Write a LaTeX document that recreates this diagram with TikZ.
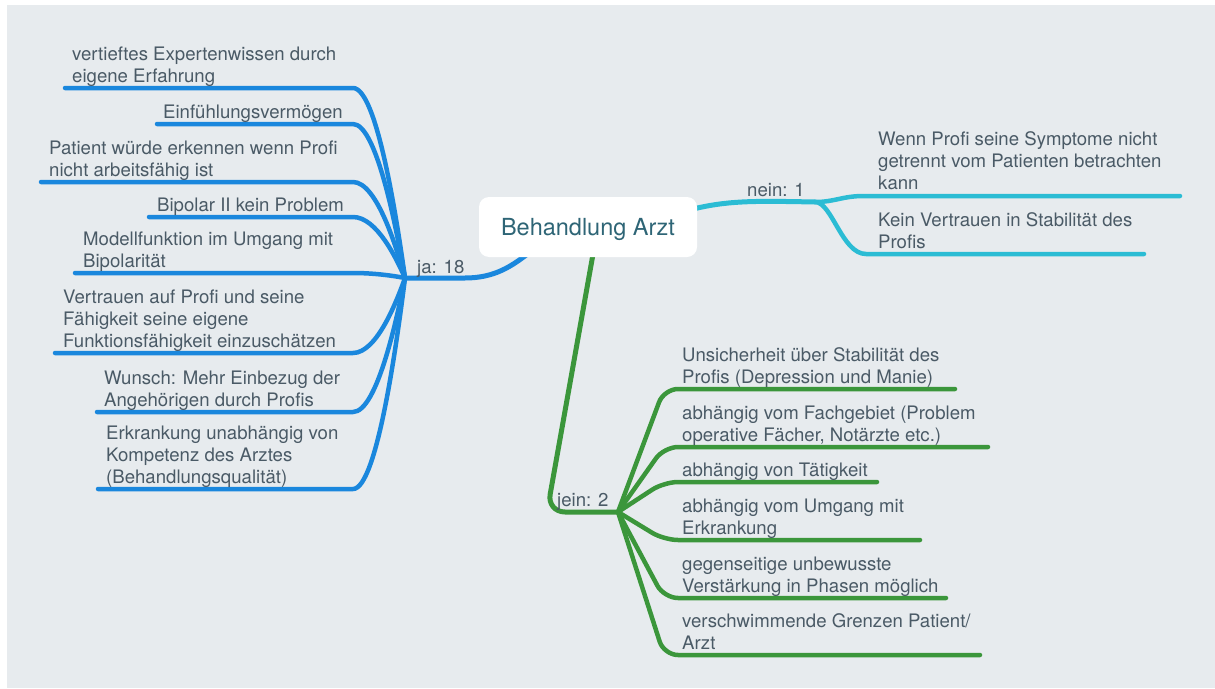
\documentclass[tikz,border=0pt]{standalone}
\usepackage{fontspec}
\setmainfont{TeX Gyre Heros}
\usetikzlibrary{calc}
\pgfdeclarelayer{bg}
\pgfdeclarelayer{lines}
\pgfsetlayers{bg,lines,main}
\definecolor{bgc}{HTML}{E7EBEE}
\definecolor{txtc}{HTML}{4A5A66}
\definecolor{rootc}{HTML}{2E6576}
\definecolor{bluec}{HTML}{1A87DD}
\definecolor{cyanc}{HTML}{2BBCD4}
\definecolor{greenc}{HTML}{3B963B}
\newcommand{\mtxt}[1]{\begin{tabular}[b]{@{}l@{}}#1\end{tabular}}
\begin{document}
\begin{tikzpicture}[x=1pt,y=-1pt,
  txt/.style={inner sep=0pt, anchor=base west, text=txtc, font=\fontsize{18.6}{22}\selectfont},
  rootbox/.style={fill=white, rounded corners=10pt, minimum width=218pt, minimum height=60pt, text depth=0pt, text=rootc, font=\fontsize{23.5}{28}\selectfont},
  bl/.style={draw=bluec, line width=4.5pt, line cap=round, line join=round},
  cy/.style={draw=cyanc, line width=4.5pt, line cap=round, line join=round},
  gr/.style={draw=greenc, line width=4.5pt, line cap=round, line join=round}]
\useasboundingbox (0,0) rectangle (1215,688);
\begin{pgfonlayer}{bg}
\fill[white] (0,0) rectangle (1215,688);
\fill[bgc] (7,5) rectangle (1215,688);
\end{pgfonlayer}

% root
\node[rootbox] (root) at (588,227) {Behandlung Arzt};

% labels
\node[txt] (ja) at (417,273) {ja: 18};
\node[txt] (nein) at (747,196) {nein: 1};
\node[txt] (jein) at (557,506) {jein: 2};

% blue leaves
\node[txt] (b1) at (72,82) {\mtxt{vertieftes Expertenwissen durch\\eigene Erfahrung}};
\node[txt] (b2) at (163,118) {Einfühlungsvermögen};
\node[txt] (b3) at (49,176) {\mtxt{Patient würde erkennen wenn Profi\\nicht arbeitsfähig ist}};
\node[txt] (b4) at (157,211) {Bipolar II kein Problem};
\node[txt] (b5) at (83,267) {\mtxt{Modellfunktion im Umgang mit\\Bipolarität}};
\node[txt] (b6) at (63,347) {\mtxt{Vertrauen auf Profi und seine\\Fähigkeit seine eigene\\Funktionsfähigkeit einzuschätzen}};
\node[txt] (b7) at (104,406) {\mtxt{Wunsch: Mehr Einbezug der\\Angehörigen durch Profis}};
\node[txt] (b8) at (106,483) {\mtxt{Erkrankung unabhängig von\\Kompetenz des Arztes\\(Behandlungsqualität)}};

% cyan leaves
\node[txt] (c1) at (878,189) {\mtxt{Wenn Profi seine Symptome nicht\\getrennt vom Patienten betrachten\\kann}};
\node[txt] (c2) at (878,248) {\mtxt{Kein Vertrauen in Stabilität des\\Profis}};

% green leaves
\node[txt] (g1) at (682,383) {\mtxt{Unsicherheit über Stabilität des\\Profis (Depression und Manie)}};
\node[txt] (g2) at (682,441) {\mtxt{abhängig vom Fachgebiet (Problem\\operative Fächer, Notärzte etc.)}};
\node[txt] (g3) at (682,476) {abhängig von Tätigkeit};
\node[txt] (g4) at (682,534) {\mtxt{abhängig vom Umgang mit\\Erkrankung}};
\node[txt] (g5) at (682,592) {\mtxt{gegenseitige unbewusste\\Verstärkung in Phasen möglich}};
\node[txt] (g6) at (682,649) {\mtxt{verschwimmende Grenzen Patient/\\Arzt}};

% hubs
\coordinate (jahub) at (405,278);
\coordinate (neinhub) at (815,202);
\coordinate (jeinhub) at (618,512);

\begin{pgfonlayer}{lines}
% main branches
\draw[bl, line width=5pt] (jahub) -- (465,278) .. controls (495,278) and (512,266) .. ($(root.south west)+(51,-5)$);
\draw[cy, line width=5pt] ($(root.east)+(-4,-18)$) .. controls (730,200) and (760,201) .. (neinhub);
\draw[gr, line width=5pt, rounded corners=18pt] ($(root.south)+(5,-3)$) -- (547,512) -- (jeinhub);

% blue leaf connectors
\foreach \n/\xl/\yy in {1/65/88, 2/157/124, 3/41/182, 4/149/217, 5/75/273, 6/55/353, 7/97/412, 8/98/489}{
  \coordinate (bL\n) at (\xl,\yy);
  \coordinate (bR\n) at (353,\yy);
  \draw[bl] (bL\n) -- (bR\n) .. controls +(24,0) and ($(jahub)+(-8,{(\yy-278)*0.3})$) .. (jahub);
}

% cyan leaf connectors
\coordinate (cR1) at (1180,196);
\coordinate (cR2) at (1144,254);
\draw[cy] (neinhub) .. controls (835,202) and (842,196) .. (864,196) -- (cR1);
\draw[cy] (neinhub) .. controls (832,202) and (842,254) .. (866,254) -- (cR2);

% green leaf connectors
\foreach \n/\xr/\yy in {1/955/389, 2/988/447, 3/877/482, 4/920/540, 5/946/598, 6/980/655}{
  \coordinate (gR\n) at (\xr,\yy);
  \draw[gr, rounded corners=14pt] (jeinhub) -- (664,\yy) -- (gR\n);
}
\end{pgfonlayer}
\end{tikzpicture}
\end{document}
